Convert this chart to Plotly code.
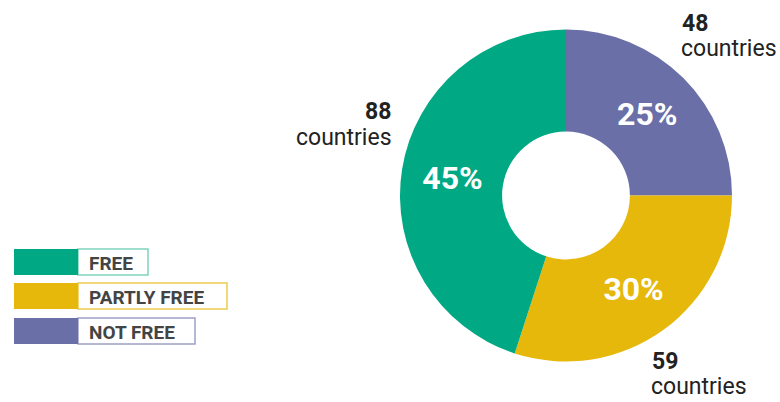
import plotly.graph_objects as go

W, H = 780, 402

labels = ["NOT FREE", "PARTLY FREE", "FREE"]
shares = [25, 30, 45]          # percent of countries
countries = [48, 59, 88]
colors = ["#6A6FA7", "#E5B80B", "#00A983"]
edge_colors = ["#9DA0C8", "#EDCB4E", "#7FD3BC"]

legend_order = ["FREE", "PARTLY FREE", "NOT FREE"]


def px_x(x):
    return x / W


def px_y(y):
    return 1 - y / H


fig = go.Figure(
    go.Pie(
        labels=labels,
        values=shares,
        text=[f"{s}%" for s in shares],
        textinfo="text",
        textposition="inside",
        insidetextorientation="horizontal",
        textfont=dict(family="Roboto", size=32, color="white", weight="bold"),
        marker=dict(colors=colors, line=dict(width=0)),
        hole=0.385,
        sort=False,
        direction="clockwise",
        rotation=0,
        showlegend=False,
        hoverinfo="label+value",
        domain=dict(x=[px_x(400), px_x(732)], y=[px_y(361.5), px_y(29.5)]),
    )
)

# count labels around the ring: (x, number y, word y, align)
count_pos = {
    "NOT FREE": (680, 23, 49, "left"),
    "PARTLY FREE": (650, 361, 386, "left"),
    "FREE": (393, 111, 137, "right"),
}
for lab, n in zip(labels, countries):
    x, yn, yw, al = count_pos[lab]
    fig.add_annotation(
        x=px_x(x), y=px_y(yn), xref="paper", yref="paper",
        xanchor=al, yanchor="middle", showarrow=False,
        text=f"<b>{n}</b>",
        font=dict(family="Roboto", size=23, color="#222222"),
    )
    fig.add_annotation(
        x=px_x(x), y=px_y(yw), xref="paper", yref="paper",
        xanchor=al, yanchor="middle", showarrow=False, borderpad=0,
        text="countries",
        font=dict(family="Roboto", size=23, color="#222222"),
    )

# custom legend
rows = {"FREE": (249, 148), "PARTLY FREE": (283, 227), "NOT FREE": (318, 195)}
for lab in legend_order:
    i = labels.index(lab)
    top, right = rows[lab]
    bot = top + 26
    fig.add_shape(type="rect", xref="paper", yref="paper",
                  x0=px_x(78), x1=px_x(right), y0=px_y(bot), y1=px_y(top),
                  line=dict(color=edge_colors[i], width=1.5), fillcolor="white")
    fig.add_shape(type="rect", xref="paper", yref="paper",
                  x0=px_x(14), x1=px_x(78), y0=px_y(bot), y1=px_y(top),
                  line=dict(width=0), fillcolor=colors[i])
    fig.add_annotation(
        x=px_x(87), y=px_y((top + bot) / 2 + 1), xref="paper", yref="paper",
        xanchor="left", yanchor="middle", showarrow=False,
        text=f"<b>{lab}</b>",
        font=dict(family="Roboto", size=19, color="#444444"),
    )

fig.update_layout(
    width=W, height=H,
    margin=dict(l=0, r=0, t=0, b=0),
    paper_bgcolor="white",
    plot_bgcolor="white",
)

fig.write_html(
    "out.html",
    config={"displayModeBar": False},
    post_script="document.body.style.margin='0';",
)
